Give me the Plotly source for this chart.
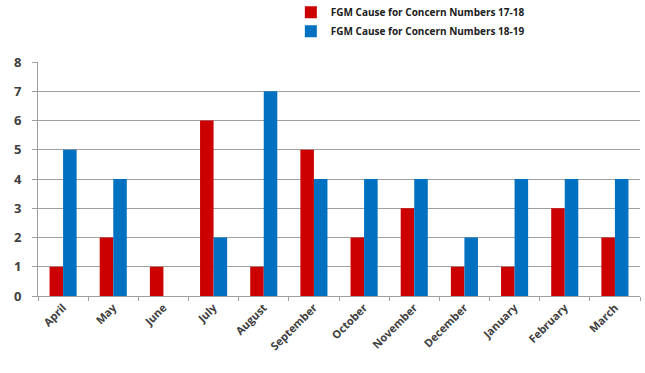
import plotly.graph_objects as go

months = ["April", "May", "June", "July", "August", "September",
          "October", "November", "December", "January", "February", "March"]
fgm_17_18 = [1, 2, 1, 6, 1, 5, 2, 3, 1, 1, 3, 2]
fgm_18_19 = [5, 4, 0, 2, 7, 4, 4, 4, 2, 4, 4, 4]
y_ticks = [0, 1, 2, 3, 4, 5, 6, 7, 8]

fig = go.Figure()
fig.add_trace(go.Bar(x=months, y=fgm_17_18, name="FGM Cause for Concern Numbers 17-18",
                     marker=dict(color="#CC0000", line=dict(width=0))))
fig.add_trace(go.Bar(x=months, y=fgm_18_19, name="FGM Cause for Concern Numbers 18-19",
                     marker=dict(color="#0070C0", line=dict(width=0))))

fig.update_layout(
    width=645, height=373,
    margin=dict(l=38, r=5, t=62, b=77, autoexpand=False),
    paper_bgcolor="white", plot_bgcolor="white",
    barmode="group", bargap=0.46, bargroupgap=0,
    font=dict(family="Open Sans, Liberation Sans, sans-serif", color="#404040"),
    legend=dict(x=0.42, y=1.275, xanchor="left", yanchor="top",
                font=dict(size=10, color="#202020", family="Open Sans", weight="bold"),
                bgcolor="rgba(0,0,0,0)", itemwidth=30, tracegroupgap=0),
    showlegend=True,
)
fig.update_xaxes(
    type="category", tickangle=-45, tickson="boundaries",
    ticks="outside", ticklen=4, tickcolor="#A0A0A0",
    showline=True, linecolor="#A0A0A0", linewidth=1,
    showgrid=False,
    tickfont=dict(size=11, color="#404040", family="Open Sans", weight="bold"),
)
fig.update_yaxes(
    range=[0, 8], tickvals=y_ticks,
    ticks="outside", ticklen=5, tickcolor="#A0A0A0",
    showline=True, linecolor="#A0A0A0", linewidth=1,
    showgrid=True, gridcolor="#A0A0A0", gridwidth=1,
    zeroline=False, ticklabelstandoff=8,
    tickfont=dict(size=13, color="#404040", family="Open Sans", weight="bold"),
)

fig.write_html("out.html")
